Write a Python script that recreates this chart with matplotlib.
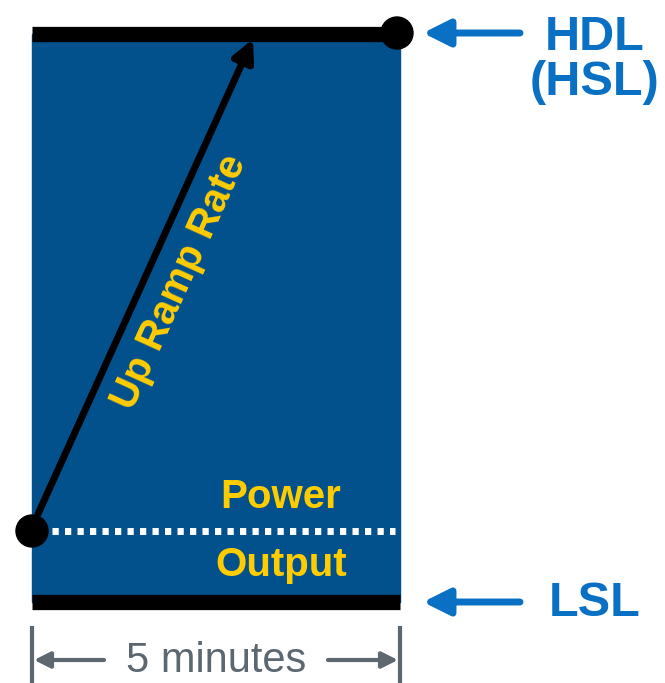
import matplotlib.pyplot as plt
from matplotlib.patches import Rectangle, Circle

plt.rcParams['font.family'] = ['Liberation Sans', 'DejaVu Sans']

# Etiquetas del diagrama
limit_labels = ['HDL\n(HSL)', 'LSL']
output_labels = ['Power', 'Output']
ramp_label = 'Up Ramp Rate'
time_label = '5 minutes'

# Colores
box_blue = '#02508C'
label_blue = '#0A70C4'
yellow = '#FFCC00'
gray = '#5D6770'

fig = plt.figure(figsize=(6.65, 6.83), dpi=100)
ax = fig.add_axes([0, 0, 1, 1])
ax.set_xlim(0, 665)
ax.set_ylim(683, 0)
ax.axis('off')

# Caja azul
ax.add_patch(Rectangle((32, 34), 368, 568, color=box_blue, zorder=1))

# Barras negras (HDL arriba, LSL abajo)
ax.plot([32, 400], [34, 34], color='black', lw=11, solid_capstyle='butt', zorder=2)
ax.plot([32, 400], [602, 602], color='black', lw=11, solid_capstyle='butt', zorder=2)

# Linea punteada de salida
ax.plot([52, 395], [531, 531], color='white', lw=5, linestyle=(0, (0.9, 0.9)), zorder=2)

# Puntos
ax.add_patch(Circle((397, 33), 16, color='black', zorder=4))
ax.add_patch(Circle((32, 531), 16, color='black', zorder=4))

# Flecha de rampa
ax.annotate('', xy=(253, 39), xytext=(38, 514),
            arrowprops=dict(arrowstyle='-|>', lw=5, color='black', mutation_scale=32,
                            shrinkA=0, shrinkB=0), zorder=3)
ax.text(179, 282, ramp_label, color=yellow, fontsize=29, fontweight='bold',
        rotation=65.6, ha='center', va='center', rotation_mode='anchor')

# Texto Power / Output
ax.text(281, 497, output_labels[0], color=yellow, fontsize=29, fontweight='bold',
        ha='center', va='center')
ax.text(281, 565, output_labels[1], color=yellow, fontsize=29, fontweight='bold',
        ha='center', va='center')

# Flechas y etiquetas de limites
for y_arrow, y_text, lab in [(33, 60, limit_labels[0]), (602, 603, limit_labels[1])]:
    ax.annotate('', xy=(423, y_arrow), xytext=(520, y_arrow),
                arrowprops=dict(arrowstyle='-|>', lw=5, color=label_blue, mutation_scale=40,
                                shrinkA=0, shrinkB=0))
    ax.text(595, y_text, lab, color=label_blue, fontsize=35, fontweight='bold',
            ha='center', va='center', linespacing=1.0)

# Cota de 5 minutos
ax.plot([32, 32], [628, 683], color=gray, lw=3)
ax.plot([400, 400], [628, 683], color=gray, lw=3)
ax.annotate('', xy=(34, 660), xytext=(104, 660),
            arrowprops=dict(arrowstyle='-|>', lw=3, color=gray, mutation_scale=24,
                            shrinkA=0, shrinkB=0))
ax.annotate('', xy=(398, 660), xytext=(328, 660),
            arrowprops=dict(arrowstyle='-|>', lw=3, color=gray, mutation_scale=24,
                            shrinkA=0, shrinkB=0))
ax.text(216, 661, time_label, color=gray, fontsize=30, ha='center', va='center')

fig.savefig('out.png', dpi=100)
